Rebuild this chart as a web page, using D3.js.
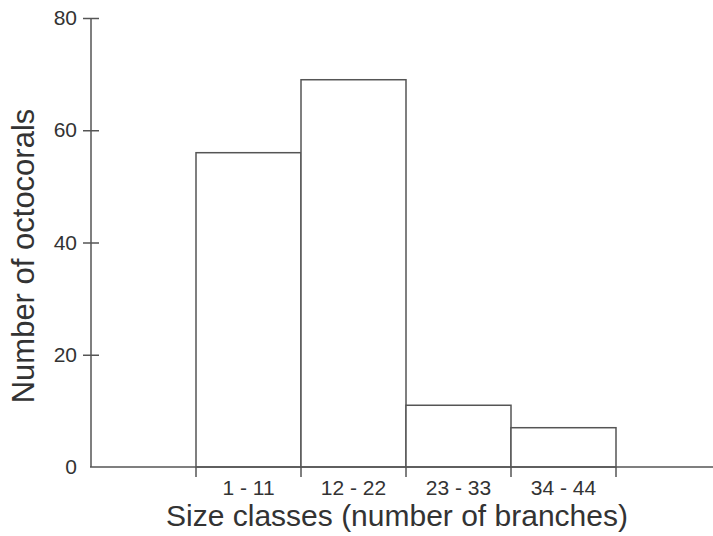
<!DOCTYPE html>
<html><head><meta charset="utf-8">
<script src="https://cdn.jsdelivr.net/npm/d3@7"></script>
<style>body{margin:0;background:#fff}svg{display:block}text{font-family:"Liberation Sans",Arial,sans-serif;fill:#333}</style>
</head><body><svg id="c" width="713" height="536"></svg>
<script>
const categories = ["1 - 11", "12 - 22", "23 - 33", "34 - 44"];
const counts = [56, 69, 11, 7];
const yTicks = [0, 20, 40, 60, 80];

const svg = d3.select("#c");
const stroke = "#555";
const y = d3.scaleLinear().domain([0, 80]).range([467, 18]);
const x = d3.scaleBand().domain(categories).range([196, 616]).padding(0);

// bars
svg.selectAll("rect.bar").data(counts).enter().append("rect")
  .attr("x", (d, i) => x(categories[i]))
  .attr("y", d => y(d))
  .attr("width", x.bandwidth())
  .attr("height", d => y(0) - y(d))
  .attr("fill", "#fff").attr("stroke", stroke).attr("stroke-width", 1.5);

// y axis
const ya = svg.append("g").attr("transform", "translate(91,0)")
  .call(d3.axisLeft(y).tickValues(yTicks).tickSize(8).tickPadding(6));
ya.select(".domain").attr("stroke", stroke).attr("stroke-width", 1.5).attr("d", `M0,${y(80)}V${y(0)}`);
ya.selectAll(".tick line").attr("stroke", stroke).attr("stroke-width", 1.5).attr("x2", 8).attr("x1", -8);
ya.selectAll(".tick text").style("font-size", "21px").attr("fill", "#333").attr("x", -14);
ya.selectAll(".tick").filter(d => d === 0).select("line").remove();

// x axis line
svg.append("line").attr("x1", 90).attr("x2", 713).attr("y1", y(0)).attr("y2", y(0))
  .attr("stroke", stroke).attr("stroke-width", 1.5);
// x ticks at bin edges
const edges = categories.map(c => x(c)).concat([x(categories[categories.length - 1]) + x.bandwidth()]);
svg.selectAll("line.xt").data(edges).enter().append("line")
  .attr("x1", d => d).attr("x2", d => d).attr("y1", y(0)).attr("y2", y(0) + 10)
  .attr("stroke", stroke).attr("stroke-width", 1.5);
svg.selectAll("text.xl").data(categories).enter().append("text")
  .attr("x", d => x(d) + x.bandwidth() / 2).attr("y", 495)
  .attr("text-anchor", "middle").style("font-size", "21px").text(d => d);

// titles
svg.append("text").attr("x", 397).attr("y", 526).attr("text-anchor", "middle")
  .style("font-size", "30px").text("Size classes (number of branches)");
svg.append("text").attr("transform", "translate(34,256) rotate(-90)").attr("text-anchor", "middle")
  .style("font-size", "31px").text("Number of octocorals");
</script></body></html>
